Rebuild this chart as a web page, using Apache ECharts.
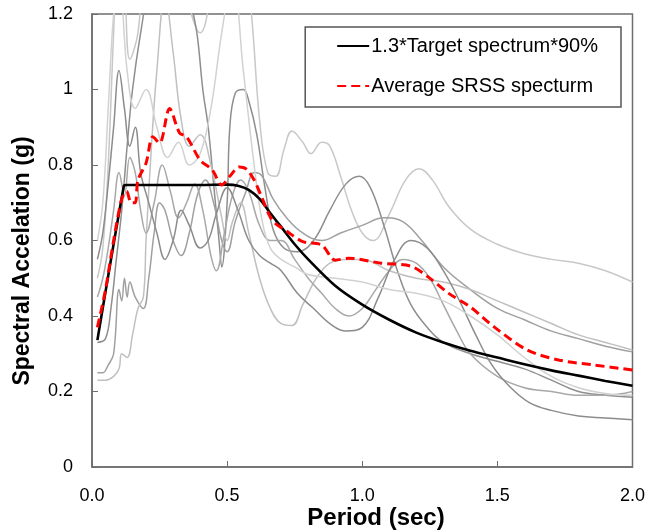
<!DOCTYPE html>
<html>
<head>
<meta charset="utf-8">
<script src="https://cdn.jsdelivr.net/npm/echarts@6/dist/echarts.min.js"></script>
<style>
* { margin: 0; padding: 0; }
html, body { background: #fff; }
#main { width: 648px; height: 532px; }
</style>
</head>
<body>
<div id="main"></div>
<script>
// tick labels
const xTicks = [0, 0.5, 1.0, 1.5, 2.0];
const yTicks = [0, 0.2, 0.4, 0.6, 0.8, 1, 1.2];

// 1.3*Target spectrum*90%  [period, Sa]
const target = [[0.02,0.336],[0.118,0.745],[0.125,0.747],[0.2,0.747],[0.3,0.747],[0.4,0.747],[0.5,0.748],[0.54,0.745],
  [0.58,0.734],[0.62,0.71],[0.66,0.672],[0.7,0.636],[0.75,0.59],[0.8,0.55],[0.9,0.48],[1.0,0.43],[1.1,0.39],
  [1.2,0.356],[1.3,0.33],[1.4,0.308],[1.5,0.29],[1.6,0.272],[1.7,0.256],[1.8,0.242],[1.9,0.228],[2.0,0.215]];

// Average SRSS spectrum
const average = [[0.02,0.37],[0.05,0.47],[0.08,0.6],[0.11,0.71],[0.128,0.73],[0.145,0.7],[0.16,0.7],[0.17,0.76],
  [0.2,0.805],[0.225,0.875],[0.25,0.858],[0.287,0.95],[0.324,0.885],[0.35,0.875],[0.4,0.813],[0.445,0.787],
  [0.48,0.747],[0.51,0.77],[0.545,0.795],[0.57,0.79],[0.6,0.76],[0.625,0.72],[0.667,0.654],[0.72,0.625],
  [0.78,0.597],[0.85,0.588],[0.9,0.548],[0.95,0.553],[1.07,0.54],[1.18,0.532],[1.245,0.503],[1.32,0.46],
  [1.4,0.424],[1.49,0.37],[1.61,0.31],[1.73,0.283],[1.86,0.27],[2.0,0.257]];

// individual records
const rec1 = [[0.02,0.5],[0.04,0.58],[0.06,0.8],[0.08,1.15],[0.1,1.45],[0.12,1.3],[0.14,1.08],[0.17,1.15],[0.2,1.4],
  [0.25,1.6],[0.3,1.45],[0.35,1.25],[0.4,1.15],[0.45,1.3],[0.5,1.5],[0.55,1.45],[0.59,1.2],[0.62,0.92],[0.65,0.78],
  [0.68,0.77],[0.71,0.84],[0.74,0.89],[0.78,0.86],[0.81,0.83],[0.85,0.86],[0.88,0.85],[0.92,0.77],[0.96,0.68],
  [1.0,0.62],[1.04,0.6],[1.1,0.67],[1.16,0.76],[1.21,0.79],[1.26,0.76],[1.32,0.69],[1.4,0.63],[1.5,0.59],
  [1.6,0.565],[1.7,0.55],[1.8,0.54],[1.9,0.52],[2.0,0.49]];
const rec2 = [[0.02,0.33],[0.05,0.34],[0.07,0.42],[0.09,0.55],[0.11,0.68],[0.13,0.85],[0.15,1.0],[0.18,1.15],
  [0.22,1.3],[0.28,1.4],[0.34,1.35],[0.37,1.22],[0.39,1.14],[0.41,1.0],[0.43,0.9],[0.45,0.75],[0.47,0.6],
  [0.48,0.53],[0.5,0.7],[0.51,0.9],[0.53,0.99],[0.56,1.0],[0.58,0.97],[0.61,0.88],[0.64,0.74],[0.67,0.63],
  [0.71,0.58],[0.76,0.57],[0.82,0.6],[0.88,0.68],[0.94,0.75],[0.99,0.77],[1.03,0.74],[1.08,0.64],[1.13,0.52],
  [1.18,0.43],[1.24,0.37],[1.3,0.33],[1.4,0.3],[1.5,0.28],[1.6,0.26],[1.7,0.23],[1.8,0.2],[1.9,0.19],[2.0,0.185]];
const rec3 = [[0.02,0.25],[0.04,0.25],[0.06,0.27],[0.08,0.3],[0.1,0.47],[0.11,0.44],[0.12,0.5],[0.13,0.45],
  [0.14,0.49],[0.16,0.45],[0.19,0.42],[0.21,0.5],[0.23,0.62],[0.25,0.7],[0.27,0.68],[0.3,0.6],[0.33,0.56],
  [0.36,0.62],[0.39,0.72],[0.42,0.76],[0.45,0.7],[0.48,0.6],[0.5,0.57],[0.53,0.65],[0.57,0.73],[0.6,0.78],
  [0.63,0.77],[0.67,0.71],[0.72,0.66],[0.78,0.62],[0.85,0.6],[0.92,0.62],[1.0,0.64],[1.08,0.66],[1.15,0.65],
  [1.22,0.6],[1.3,0.53],[1.4,0.47],[1.5,0.42],[1.6,0.39],[1.7,0.36],[1.8,0.34],[1.9,0.32],[2.0,0.305]];
const rec4 = [[0.02,0.23],[0.05,0.23],[0.08,0.24],[0.1,0.26],[0.11,0.3],[0.13,0.29],[0.15,0.35],[0.17,0.42],
  [0.19,0.45],[0.2,0.6],[0.22,0.85],[0.24,1.05],[0.27,1.25],[0.3,1.1],[0.33,0.92],[0.36,0.85],[0.4,0.88],
  [0.44,0.8],[0.48,0.66],[0.5,0.6],[0.52,0.65],[0.55,0.7],[0.58,0.62],[0.62,0.5],[0.66,0.42],[0.7,0.38],
  [0.74,0.375],[0.78,0.43],[0.83,0.5],[0.88,0.54],[0.94,0.55],[1.0,0.55],[1.1,0.52],[1.2,0.5],[1.3,0.49],
  [1.4,0.47],[1.5,0.44],[1.6,0.41],[1.7,0.38],[1.8,0.35],[1.9,0.33],[2.0,0.31]];
const rec5 = [[0.02,0.45],[0.04,0.5],[0.06,0.58],[0.08,0.68],[0.1,0.78],[0.12,0.72],[0.14,0.82],[0.16,0.78],
  [0.18,0.68],[0.2,0.62],[0.23,0.7],[0.26,0.8],[0.29,0.73],[0.32,0.66],[0.35,0.7],[0.38,0.75],[0.41,0.68],
  [0.44,0.56],[0.46,0.52],[0.49,0.62],[0.52,0.72],[0.55,0.76],[0.58,0.73],[0.62,0.64],[0.66,0.6],[0.7,0.6],
  [0.75,0.55],[0.8,0.5],[0.85,0.46],[0.9,0.42],[0.95,0.4],[1.0,0.42],[1.05,0.47],[1.1,0.52],[1.15,0.55],
  [1.2,0.54],[1.25,0.5],[1.3,0.43],[1.35,0.36],[1.4,0.3],[1.5,0.24],[1.6,0.21],[1.7,0.2],[1.8,0.19],[1.9,0.19],[2.0,0.2]];
const rec6 = [[0.02,0.55],[0.04,0.62],[0.06,0.75],[0.08,0.9],[0.1,1.05],[0.12,0.95],[0.14,0.85],[0.16,0.9],
  [0.18,0.78],[0.21,0.7],[0.24,0.62],[0.27,0.55],[0.3,0.6],[0.33,0.68],[0.36,0.64],[0.4,0.58],[0.43,0.6],
  [0.46,0.67],[0.5,0.74],[0.54,0.68],[0.58,0.6],[0.62,0.56],[0.66,0.54],[0.7,0.52],[0.76,0.46],[0.82,0.42],
  [0.88,0.38],[0.94,0.36],[1.0,0.37],[1.06,0.45],[1.12,0.55],[1.18,0.6],[1.24,0.58],[1.3,0.52],[1.36,0.44],
  [1.42,0.35],[1.48,0.27],[1.55,0.21],[1.62,0.17],[1.7,0.15],[1.8,0.135],[1.9,0.13],[2.0,0.125]];
const rec7 = [[0.02,0.6],[0.04,0.7],[0.06,0.95],[0.08,1.2],[0.1,1.3],[0.13,1.05],[0.16,0.95],[0.2,1.0],
  [0.24,0.9],[0.28,0.82],[0.32,0.86],[0.36,0.8],[0.4,0.83],[0.44,0.95],[0.48,1.15],[0.52,1.3],[0.56,1.05],
  [0.6,0.8],[0.63,0.65],[0.66,0.58],[0.7,0.55],[0.75,0.53],[0.8,0.51],[0.9,0.5],[1.0,0.49],[1.1,0.47],
  [1.2,0.46],[1.3,0.44],[1.4,0.4],[1.5,0.35],[1.6,0.29],[1.7,0.24],[1.8,0.21],[1.9,0.195],[2.0,0.19]];

const records = [rec1, rec2, rec3, rec4, rec5, rec6, rec7];
const recColors = ["#c8c8c8", "#8e8e8e", "#a0a0a0", "#c0c0c0", "#a8a8a8", "#8c8c8c", "#d2d2d2"];

const font = "'Liberation Sans', Arial, sans-serif";

let series = records.map((d, i) => ({
  name: "rec" + (i + 1),
  type: "line",
  data: d,
  smooth: 0.4,
  symbol: "none",
  silent: true,
  lineStyle: { color: recColors[i], width: 1.5 }
}));
series.push({
  name: "1.3*Target spectrum*90%",
  type: "line",
  data: target,
  smooth: 0.3,
  symbol: "none",
  lineStyle: { color: "#000", width: 2.6 },
  itemStyle: { color: "#000" },
  z: 5
});
series.push({
  name: "Average SRSS specturm",
  type: "line",
  data: average,
  smooth: 0.3,
  symbol: "none",
  lineStyle: { color: "#ff0000", width: 3, type: [9, 5] },
  itemStyle: { color: "#ff0000" },
  z: 6
});

const chart = echarts.init(document.getElementById("main"));
chart.setOption({
  animation: false,
  backgroundColor: "#fff",
  grid: { left: 92, right: 12, top: 14, bottom: 65, show: true, borderColor: "#6e6e6e", borderWidth: 1.5 },
  legend: {
    data: ["1.3*Target spectrum*90%", "Average SRSS specturm"],
    orient: "vertical",
    right: 27,
    top: 27,
    padding: [9, 23, 11, 31],
    itemGap: 20,
    itemWidth: 32,
    itemHeight: 14,
    itemStyle: { opacity: 0 },
    borderColor: "#555",
    borderWidth: 1.5,
    backgroundColor: "#fff",
    textStyle: { fontFamily: font, fontSize: 20, color: "#000", padding: [0, 0, 0, -3] }
  },
  // axis titles sit a little off the plot centre, as in the picture
  graphic: [
    { type: "text", x: 376, y: 518, style: { text: "Period (sec)", align: "center", verticalAlign: "middle",
      font: "bold 24px 'Liberation Sans', Arial, sans-serif", fill: "#000" } },
    { type: "text", x: 23, y: 261, rotation: Math.PI / 2, style: { text: "Spectral Accelation (g)", align: "center", verticalAlign: "middle",
      font: "bold 23px 'Liberation Sans', Arial, sans-serif", fill: "#000" } }
  ],
  xAxis: {
    type: "value",
    min: 0, max: 2, interval: 0.5,
    axisLine: { lineStyle: { color: "#6e6e6e", width: 1.5 } },
    axisTick: { inside: true, length: 6, lineStyle: { color: "#6e6e6e" } },
    axisLabel: { fontFamily: font, fontSize: 18, color: "#000", margin: 20,
      formatter: v => xTicks.includes(v) ? v.toFixed(1) : "" },
    splitLine: { show: false }
  },
  yAxis: {
    type: "value",
    min: 0, max: 1.2, interval: 0.2,
    axisLine: { show: true, lineStyle: { color: "#6e6e6e", width: 1.5 } },
    axisTick: { show: true, inside: true, length: 6, lineStyle: { color: "#6e6e6e" } },
    axisLabel: { fontFamily: font, fontSize: 18, color: "#000", margin: 19,
      formatter: v => String(yTicks.find(t => Math.abs(t - v) < 1e-6) ?? "") },
    splitLine: { show: false }
  },
  series: series
});
</script>
</body>
</html>
